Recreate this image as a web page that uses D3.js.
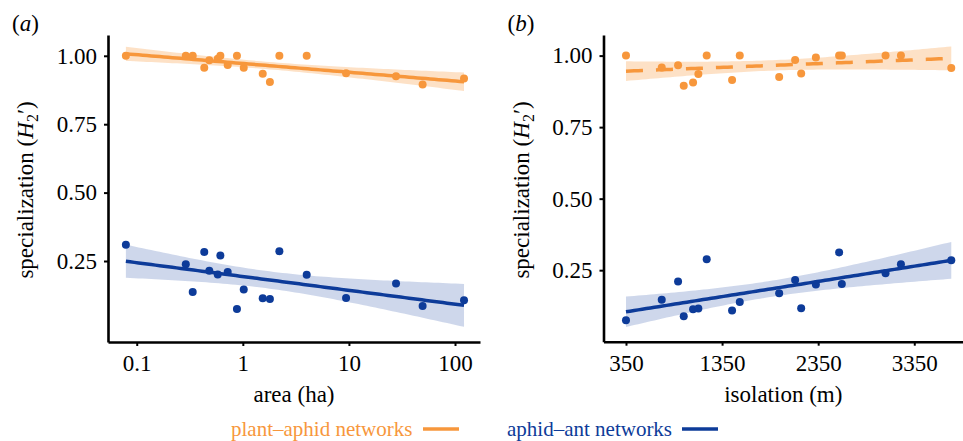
<!DOCTYPE html>
<html>
<head>
<meta charset="utf-8">
<script src="https://cdn.jsdelivr.net/npm/d3@7"></script>
<style>
  body { margin: 0; background: #fff; }
</style>
</head>
<body>
<script>
const width = 963;
const height = 441;
const serif = "'Liberation Serif', 'Times New Roman', Times, serif";

// sites
const areaHa = [0.079, 0.29, 0.337, 0.433, 0.483, 0.58, 0.614, 0.72, 0.88, 1.02, 1.54, 1.8, 2.21, 4.0, 9.4, 27.8, 49.5, 121.6];
const plantAphidByArea = [1.0, 1.0, 1.0, 0.956, 0.984, 0.989, 1.0, 0.966, 1.0, 0.956, 0.934, 0.904, 1.0, 1.0, 0.936, 0.925, 0.895, 0.917];
const aphidAntByArea = [0.309, 0.238, 0.137, 0.283, 0.214, 0.201, 0.27, 0.21, 0.075, 0.146, 0.114, 0.111, 0.286, 0.2, 0.115, 0.168, 0.086, 0.107];

const isolationM = [350, 722, 892, 951, 1048, 1103, 1190, 1454, 1534, 1944, 2110, 2173, 2326, 2568, 2596, 3051, 3211, 3735];
const plantAphidByIso = [1.0, 0.958, 0.966, 0.895, 0.906, 0.936, 1.0, 0.915, 1.0, 0.925, 0.985, 0.937, 0.993, 1.0, 1.0, 1.0, 1.0, 0.957];
const aphidAntByIso = [0.075, 0.147, 0.21, 0.089, 0.113, 0.116, 0.288, 0.109, 0.139, 0.169, 0.216, 0.117, 0.2, 0.312, 0.202, 0.239, 0.271, 0.285];

const areaTicks = [0.1, 1, 10, 100];
const isoTicks = [350, 1350, 2350, 3350];
const yTicks = [0.25, 0.5, 0.75, 1.0];

const seriesNames = ["plant–aphid networks", "aphid–ant networks"];
const seriesColors = ["#f7973c", "#0d3b99"];
const ribbonColors = ["#fddcbc", "#c6d0e8"];

const svg = d3.select("body").append("svg")
  .attr("width", width)
  .attr("height", height)
  .attr("font-family", serif);

// ordinary least squares with a 95% band (t for 16 df)
const lmFit = (xs, ys) => {
  const n = xs.length;
  const mx = d3.mean(xs), my = d3.mean(ys);
  const sxx = d3.sum(xs, (x) => (x - mx) ** 2);
  const sxy = d3.sum(xs.map((x, i) => (x - mx) * (ys[i] - my)));
  const b = sxy / sxx;
  const a = my - b * mx;
  const rss = d3.sum(xs.map((x, i) => (ys[i] - a - b * x) ** 2));
  const s = Math.sqrt(rss / (n - 2));
  const t = 2.12;
  return (x) => {
    const yh = a + b * x;
    const se = s * Math.sqrt(1 / n + (x - mx) ** 2 / sxx);
    return [yh, yh - t * se, yh + t * se];
  };
};

const panels = [
  {
    label: "a", xs: areaHa, series: [plantAphidByArea, aphidAntByArea], dashed: [false, false],
    x: d3.scaleLog().domain([0.0536, 172]).range([108, 480]),
    y: d3.scaleLinear().domain([-0.046, 1.076]).range([342, 35]),
    tf: Math.log10, inv: (v) => Math.pow(10, v),
    ticks: areaTicks, fmt: (d) => String(d), title: "area (ha)"
  },
  {
    label: "b", xs: isolationM, series: [plantAphidByIso, aphidAntByIso], dashed: [true, false],
    x: d3.scaleLinear().domain([116, 3857]).range([603.5, 963]),
    y: d3.scaleLinear().domain([0, 1.072]).range([341.7, 35]),
    tf: (v) => v, inv: (v) => v,
    ticks: isoTicks, fmt: (d) => String(d), title: "isolation (m)"
  }
];

const drawPanel = (selection, p) => {
  const g = selection.append("g");
  const [x0, x1] = p.x.range();
  const [yb, yt] = p.y.range();
  const tx = p.xs.map(p.tf);
  const lo = d3.min(tx), hi = d3.max(tx);
  const grid = d3.range(0, 81).map((i) => lo + (hi - lo) * i / 80);

  p.series.forEach((ys, k) => {
    const fit = lmFit(tx, ys);
    const band = grid.map((v) => [p.inv(v), ...fit(v)]);
    g.append("path")
      .datum(band)
      .attr("fill", ribbonColors[k])
      .attr("fill-opacity", 0.85)
      .attr("d", d3.area()
        .x((d) => p.x(d[0]))
        .y0((d) => p.y(d[2]))
        .y1((d) => p.y(d[3])));
  });

  p.series.forEach((ys, k) => {
    const fit = lmFit(tx, ys);
    g.selectAll("circle.s" + k)
      .data(p.xs.map((x, i) => [x, ys[i]]))
      .join("circle")
      .attr("class", "s" + k)
      .attr("cx", (d) => p.x(d[0]))
      .attr("cy", (d) => p.y(d[1]))
      .attr("r", 4)
      .attr("fill", seriesColors[k]);
    g.append("path")
      .datum(grid.map((v) => [p.inv(v), fit(v)[0]]))
      .attr("fill", "none")
      .attr("stroke", seriesColors[k])
      .attr("stroke-width", 3.5)
      .attr("stroke-dasharray", p.dashed[k] ? "17,13" : null)
      .attr("d", d3.line().x((d) => p.x(d[0])).y((d) => p.y(d[1])));
  });

  const ya = g.append("g")
    .attr("transform", `translate(${x0},0)`)
    .call(d3.axisLeft(p.y).tickValues(yTicks).tickFormat(d3.format(".2f")).tickSize(4).tickSizeOuter(0).tickPadding(7));
  const xa = g.append("g")
    .attr("transform", `translate(0,${yb})`)
    .call(d3.axisBottom(p.x).tickValues(p.ticks).tickFormat(p.fmt).tickSize(4).tickSizeOuter(0).tickPadding(9));
  [ya, xa].forEach((a) => {
    a.attr("font-family", serif).attr("font-size", 23);
    a.selectAll("text").attr("fill", "#000");
    a.select(".domain").attr("stroke", "#000").attr("stroke-width", 2.6);
    a.selectAll(".tick line").attr("stroke", "#000").attr("stroke-width", 2);
  });

  g.append("text")
    .attr("x", (x0 + x1) / 2)
    .attr("y", 402)
    .attr("text-anchor", "middle")
    .attr("font-size", 23)
    .text(p.title);

  const yt0 = g.append("text")
    .attr("transform", `translate(${x0 - 75},190) rotate(-90)`)
    .attr("text-anchor", "middle")
    .attr("font-size", 23);
  yt0.append("tspan").text("specialization (");
  yt0.append("tspan").attr("font-style", "italic").text("H");
  yt0.append("tspan").attr("font-size", 16).attr("dy", 5).text("2");
  yt0.append("tspan").attr("dy", -5).text("′)");

  const lab = g.append("text")
    .attr("x", x0 - 96)
    .attr("y", 31)
    .attr("font-size", 23);
  lab.append("tspan").text("(");
  lab.append("tspan").attr("font-style", "italic").text(p.label);
  lab.append("tspan").text(")");
};

panels.forEach((p) => svg.call(drawPanel, p));

// legend
const legendX = [231, 507];
const legend = svg.selectAll("g.legend")
  .data(seriesNames)
  .join("g")
  .attr("class", "legend")
  .attr("transform", (d, i) => `translate(${legendX[i]},436)`);
legend.append("text")
  .attr("font-size", 21)
  .attr("fill", (d, i) => seriesColors[i])
  .text((d) => d);
legend.append("line")
  .attr("x1", (d, i) => (i === 0 ? 192 : 175))
  .attr("x2", (d, i) => (i === 0 ? 228 : 211))
  .attr("y1", -7)
  .attr("y2", -7)
  .attr("stroke", (d, i) => seriesColors[i])
  .attr("stroke-width", 3.5);
</script>
</body>
</html>
